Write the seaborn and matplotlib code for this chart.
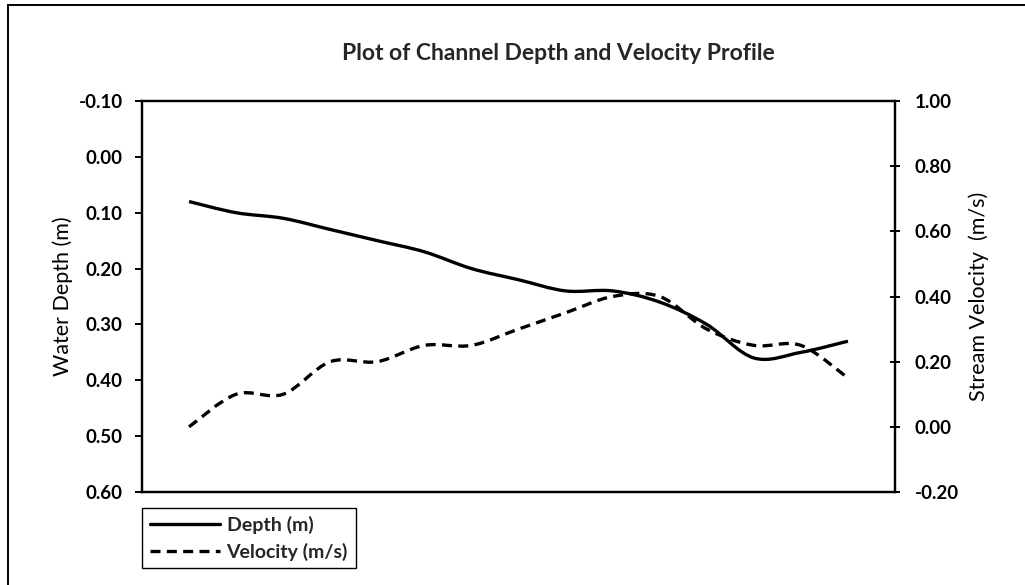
import matplotlib
matplotlib.use("Agg")
import matplotlib.pyplot as plt
import numpy as np
import seaborn as sns
from matplotlib.path import Path
from matplotlib.patches import PathPatch, Rectangle
from matplotlib.ticker import FormatStrFormatter

# data (15 stations across the channel)
station = [1, 2, 3, 4, 5, 6, 7, 8, 9, 10, 11, 12, 13, 14, 15]
depth_m = [0.08, 0.10, 0.11, 0.13, 0.15, 0.17, 0.20, 0.22, 0.24, 0.24, 0.26, 0.30, 0.36, 0.35, 0.33]
velocity_ms = [0.00, 0.10, 0.10, 0.20, 0.20, 0.25, 0.25, 0.30, 0.35, 0.40, 0.40, 0.30, 0.25, 0.25, 0.15]

depth_ticks = [-0.10, 0.00, 0.10, 0.20, 0.30, 0.40, 0.50, 0.60]
velocity_ticks = [-0.20, 0.00, 0.20, 0.40, 0.60, 0.80, 1.00]

sns.set_theme(style="white")
plt.rcParams['font.family'] = ['Lato', 'DejaVu Sans']

DASH = (3.0, 1.9)


def smooth_path(xy):
    # Excel style "smoothed line": cubic Bezier through every point
    pts = np.asarray(xy, dtype=float)
    ext = np.vstack([pts[0], pts, pts[-1]])
    verts = [pts[0]]
    codes = [Path.MOVETO]
    for i in range(1, len(ext) - 2):
        p0, p1, p2, p3 = ext[i - 1], ext[i], ext[i + 1], ext[i + 2]
        verts += [p1 + (p2 - p0) / 6, p2 - (p3 - p1) / 6, p2]
        codes += [Path.CURVE4] * 3
    return Path(verts, codes)


fig = plt.figure(figsize=(10.25, 5.85), dpi=100)
ax = fig.add_axes([142 / 1025, 1 - 492 / 585, 753 / 1025, 391 / 585])
ax2 = ax.twinx()

sns.lineplot(x=station, y=depth_m, ax=ax, color='black', linewidth=2.4, label='Depth (m)')
sns.lineplot(x=station, y=velocity_ms, ax=ax2, color='black', linewidth=2.4, label='Velocity (m/s)')
ax2.lines[0].set_dashes(DASH)

ax.set_xlim(0, 16)
ax.set_ylim(0.60, -0.10)
ax2.set_ylim(-0.20, 1.00)
ax.set_yticks(depth_ticks)
ax2.set_yticks(velocity_ticks)
ax.yaxis.set_major_formatter(FormatStrFormatter('%.2f'))
ax2.yaxis.set_major_formatter(FormatStrFormatter('%.2f'))
ax.set_xticks([])
ax.set_xlabel('')

for a in (ax, ax2):
    for s in a.spines.values():
        s.set_color('black')
        s.set_linewidth(1.6)
    for lab in a.get_yticklabels():
        lab.set_fontweight('bold')
        lab.set_fontsize(13.5)

ax.tick_params(axis='y', left=True, direction='out', length=5, width=1.4, pad=9, colors='black')
ax2.tick_params(axis='y', right=True, direction='inout', length=6.5, width=1.4, pad=11, colors='black')

ax.set_ylabel('Water Depth (m)', fontsize=15.5, color='black')
ax2.set_ylabel('Stream Velocity  (m/s)', fontsize=15.5, color='black')
ax.yaxis.set_label_coords(-0.092, 0.5)
ax2.yaxis.set_label_coords(1.097, 0.5)

fig.text(558 / 1025, 1 - 53 / 585, 'Plot of Channel Depth and Velocity Profile',
         ha='center', va='center', fontsize=16.5, fontweight='bold')

# legend built from the seaborn lines, then the lines are redrawn smoothed
handles = [ax.lines[0], ax2.lines[0]]
for a in (ax, ax2):
    if a.get_legend() is not None:
        a.get_legend().remove()
leg = fig.legend(handles, ['Depth (m)', 'Velocity (m/s)'], loc='upper left',
                 bbox_to_anchor=(142 / 1025, 1 - 508 / 585), frameon=True, fancybox=False,
                 edgecolor='black', framealpha=1, handlelength=3.6, handletextpad=0.35,
                 labelspacing=0.45, borderpad=0.4, borderaxespad=0,
                 prop={'weight': 'bold', 'size': 14})
leg.get_frame().set_linewidth(1.0)

for a, line in ((ax, ax.lines[0]), (ax2, ax2.lines[0])):
    patch = PathPatch(smooth_path(line.get_xydata()), facecolor='none', edgecolor='black',
                      linewidth=line.get_linewidth(), capstyle='butt', joinstyle='round')
    if a is ax2:
        patch.set_linestyle((0, DASH))
    a.add_patch(patch)
    line.set_visible(False)

# chart area border
fig.patches.append(Rectangle((8 / 1025, -0.1), 1.2, 1 - 5 / 585 + 0.1, transform=fig.transFigure,
                             fill=False, edgecolor='black', linewidth=1.4, zorder=0))

fig.savefig('out.png', dpi=100)
